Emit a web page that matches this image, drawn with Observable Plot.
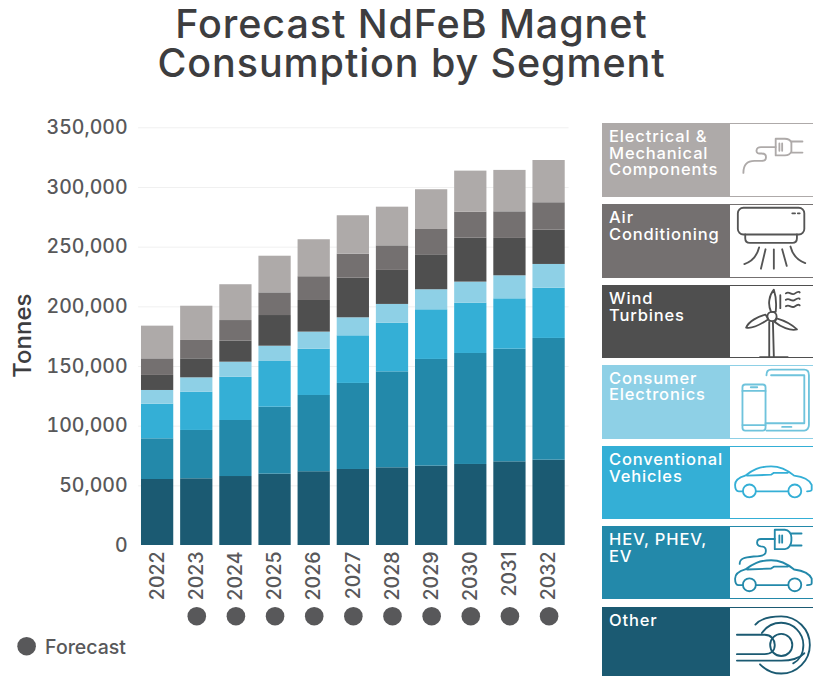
<!DOCTYPE html>
<html><head><meta charset="utf-8">
<script src="https://cdn.jsdelivr.net/npm/d3@7"></script>
<script src="https://cdn.jsdelivr.net/npm/@observablehq/plot@0.6"></script>
<style>
html,body{margin:0;padding:0;background:#fff;overflow:hidden}
#page{position:relative;width:813px;height:676px;font-family:Inter,sans-serif;overflow:hidden}
#title{position:absolute;left:0;top:5px;width:823px;text-align:center;font-size:39.5px;letter-spacing:.9px;line-height:39px;font-weight:500;color:#3d3d3f}
#chart{position:absolute;left:0;top:0}
.card{position:absolute;left:602px;width:211px;box-sizing:border-box;border:1.5px solid;border-right:none;display:flex;overflow:hidden}
.card .lab{width:127px;flex:none;color:#fff;font-size:16.5px;letter-spacing:.85px;line-height:16.5px;font-weight:500;padding:4px 0 0 6px;box-sizing:border-box;white-space:nowrap}
.card .ic{flex:1;background:#fff}
.card svg{display:block;fill:none;stroke-width:2;stroke-linecap:round;stroke-linejoin:round}
</style></head><body>
<div id="page"><div id="title">Forecast NdFeB Magnet<br>Consumption by Segment</div><div id="chart"></div><div id="cards"></div></div>
<script>
const years = ["2022","2023","2024","2025","2026","2027","2028","2029","2030","2031","2032"];
const forecastYears = years.slice(1);
const other      = [55300,55900,57800,59800,61800,63700,65100,66500,67900,70100,71500];
const hev        = [34100,40500,46950,56100,63900,72100,80400,89400,93000,94400,102000];
const conventional=[29000,32100,36250,38300,38800,39900,40800,41600,42200,42200,42100];
const consumer   = [11500,12000,12600,12800,14300,15100,15700,16800,17600,19300,19900];
const wind       = [12600,15900,17600,25700,26500,33200,28500,29300,36800,31300,28700];
const airCon     = [13900,15400,17300,19000,19900,20100,20600,21200,21800,22300,23000];
const electrical = [27400,28700,30000,30700,31000,32200,32400,33300,34400,34700,35400];
const segments = [
 ["Other",other,"#1b5a72"],["HEV, PHEV, EV",hev,"#2389aa"],["Conventional Vehicles",conventional,"#34afd6"],
 ["Consumer Electronics",consumer,"#8ed0e6"],["Wind Turbines",wind,"#4f4f4f"],["Air Conditioning",airCon,"#747070"],
 ["Electrical & Mechanical Components",electrical,"#aeaaa9"]];
const rows = segments.flatMap(([s,v])=>v.map((value,i)=>({year:years[i],segment:s,value})));
const yTicks=[0,50000,100000,150000,200000,250000,300000,350000];
const ink="#58585a";
const plot = Plot.plot({
  width:813,height:676,marginLeft:134.1,marginRight:241.4,marginTop:127.3,marginBottom:131,
  style:{fontFamily:"Inter,sans-serif",background:"transparent",color:ink,overflow:"visible"},
  x:{domain:years,padding:0.176,round:false,label:null},
  y:{domain:[0,350000],label:null},
  color:{domain:segments.map(d=>d[0]),range:segments.map(d=>d[2])},
  marks:[
    Plot.ruleY(yTicks.slice(1),{stroke:"#f0f0f0",strokeWidth:1,insetLeft:4,insetRight:3}),
    Plot.barY(rows,{x:"year",y:"value",fill:"segment",order:segments.map(d=>d[0])}),
    Plot.axisY({ticks:yTicks,tickFormat:d3.format(","),tickSize:0,tickPadding:7,fontSize:19.5,fontWeight:500,fill:ink,label:null}),
    Plot.axisX({tickRotate:-90,tickSize:0,tickPadding:6,fontSize:19.5,fontWeight:500,fill:ink,label:null}),
    Plot.text(["Tonnes"],{frameAnchor:"left",textAnchor:"middle",rotate:-90,dx:-111,dy:-1,fontSize:24,fontWeight:500,fill:"#3d3d3f"}),
    Plot.dot(forecastYears,{x:d=>d,frameAnchor:"bottom",dy:70.7,r:9.3,fill:ink}),
    Plot.dot(["Forecast"],{frameAnchor:"bottom-left",dx:-108,dy:100.7,r:9.3,fill:ink}),
    Plot.text(["Forecast"],{frameAnchor:"bottom-left",lineAnchor:"middle",dx:-89.5,dy:102,textAnchor:"start",fontSize:19.5,fontWeight:500,fill:ink})
  ]
});
document.getElementById("chart").append(plot);
const carPath=`<path d="M13 48H9c-3 0-4-2-4-7 0-5 4-8 11-10 8-6 15-10 28-10 11 0 19 5 25 10 8 1 16 3 19 10v5c0 2-2 2-5 2M28 48h34M18 31l26-1 3-2h15"/><circle cx="20.5" cy="47.6" r="7"/><circle cx="69.7" cy="47.6" r="7"/>`;
const icons={
 elec:`<path d="M14 53c0-8 4-13 12-13h8c6 0 6-8 0-8h-3c-4 0-4-7 2-7h16"/><path d="M49 16h10c4 0 6 2 7 4v10c-1 2-3 4-7 4H49z"/><path d="M56 21v8M53 21v8M66 19h12M66 31h12"/>`,
 ac:`<rect x="8" y="3" width="72" height="29" rx="6"/><path d="M16 32v4c0 3 2 5 5 5h46c3 0 5-2 5-5v-4"/><path d="M67 9h3M73 9h2"/><path d="M31 46c-2 8-7 15-16 18M38 48l-5 21M47 48v21M56 48l5 18M65 45c2 8 8 15 16 18"/>`,
 wind:`<path d="M42 39v38M32 77h30M46 39l1 38"/><circle cx="45" cy="33" r="5"/><path d="M44 28c-4-8-2-18 3-24 2 6 3 15 2 24zM41 36c-6 4-16 11-24 9 3-7 13-12 21-14zM50 35c7 2 16 6 22 12-7 2-18-3-24-8z"/><path d="M54 10v14M60 8c4-3 6 3 10 0s5-1 5-1M60 15c4-3 6 3 10 0s5-1 5-1M60 22c4-3 6 3 10 0s5-1 5-1"/>`,
 phone:`<rect x="13" y="20" width="25" height="50" rx="3"/><path d="M13 27h25M13 64h25M22 23h7M39 10c0-4 2-6 5-6h36c3 0 5 2 5 6v54c0 3-2 6-5 6H39"/><path d="M44 10h36v52H38"/><path d="M56 66h10"/>`,
 car:carPath,
 hev:`<path d="M48 13H33c-5 0-6 7 0 8 5 0 6 3 5 7-1 3-5 4-13 4-10 1-15 2-15 8"/><path d="M48 3h11c4 0 7 4 7 8v4c0 4-3 9-7 9H48z"/><path d="M56 9v8M53 9v8M66 7h11M66 20h11"/><g transform="translate(0,15)">${carPath}</g>`,
 other:`<path d="M7 29h30c7 0 11 5 11 11s-4 10-11 10H7M7 57h48c12 0 20-3 25-8"/><circle cx="55" cy="40" r="12"/><path d="M34 27c5-7 13-11 21-11 13 0 24 11 24 24 0 10-5 17-11 20"/><path d="M27 18C33 11 43 9 55 9c17 0 31 14 31 31s-14 31-31 31c-9 0-17-4-23-10"/>`
};
const cards=[
 ["Electrical &<br>Mechanical<br>Components","#aeaaa9",123.3,74,icons.elec,"#aeaaa9"],
 ["Air<br>Conditioning","#747070",204,73.7,icons.ac,"#555"],
 ["Wind<br>Turbines","#4f4f4f",285,73.3,icons.wind,"#4f4f4f"],
 ["Consumer<br>Electronics","#8ed0e6",364.7,74.3,icons.phone,"#6fc3dc"],
 ["Conventional<br>Vehicles","#34afd6",446,73.3,icons.car,"#34afd6"],
 ["HEV, PHEV,<br>EV","#2389aa",526,73,icons.hev,"#2389aa"],
 ["Other","#1b5a72",606.7,80,icons.other,"#1b5a72"]];
document.getElementById("cards").innerHTML=cards.map(([t,c,y,h,ic,s])=>`<div class="card" style="top:${y}px;height:${h}px;border-color:${c}"><div class="lab" style="background:${c}">${t}</div><div class="ic"><svg width="84" height="72" viewBox="0 0 90 78" stroke="${s}">${ic}</svg></div></div>`).join("");
</script>
</body></html>
